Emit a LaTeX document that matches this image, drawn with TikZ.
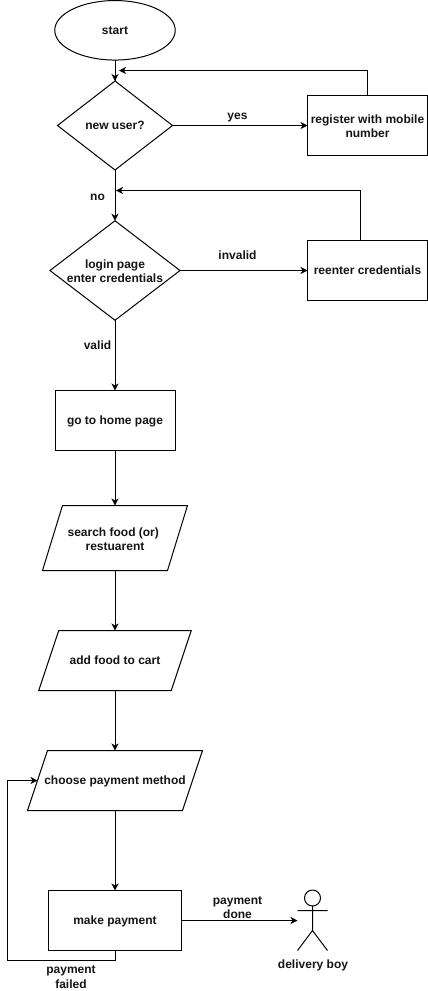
\documentclass[tikz,border=0pt]{standalone}
\usepackage{fontspec}
\setmainfont{Liberation Sans}
\usetikzlibrary{shapes.geometric,arrows.meta}
\newcommand{\topstrut}{\rule{0pt}{10.5pt}}
\newcommand{\botstrut}{\rule[-2.5pt]{0pt}{2.5pt}}
\newcommand{\lift}[1]{\rule{0pt}{#1}}
\tikzset{
  every node/.style={font=\fontsize{12}{14.5}\selectfont\bfseries,align=center,inner sep=0pt,outer sep=0pt,text=black!92,
    execute at begin node=\topstrut,execute at end node=\botstrut},
  box/.style={draw=black,line width=1pt,rectangle,minimum width=#1,minimum height=60pt},
  box/.default=120pt,
  decision/.style={draw=black,line width=1pt,diamond,shape aspect=1.2},
  iobody/.style={rectangle,minimum width=#1},
  wire/.style={line width=1pt,line join=miter},
  conn/.style={line width=1pt,-{Stealth[length=7pt,width=7pt,inset=2pt]}}
}
% outline of a parallelogram around a named text node: name, slant
\newcommand{\slanted}[2]{\draw[wire] ([xshift=#2pt]#1.north west) -- (#1.north east) -- ([xshift=-#2pt]#1.south east) -- (#1.south west) -- cycle;}
\begin{document}
\begin{tikzpicture}[x=1pt,y=-1pt]
\useasboundingbox (0,0) rectangle (428,991);
\node[draw=black,line width=1pt,ellipse,minimum width=120.5pt,minimum height=59.5pt] (start) at (115,30.3) {start};
\node[decision,minimum width=115pt,minimum height=89pt,label={[inner sep=0pt]center:new user?}] (newuser) at (115,125.5) {};
\node[box] (register) at (367.5,125.5) {\lift{12.5pt}register with mobile\\number};
\node[decision,minimum width=130pt,minimum height=99.5pt,label={[inner sep=0pt,align=center]center:\lift{12.5pt}login page\\enter credentials}] (login) at (115,270.5) {};
\node[box] (reenter) at (367.5,270.5) {reenter credentials};
\node[box] (home) at (115,420.5) {go to home page};
\node[iobody=145pt,minimum height=65pt] (search) at (115,538) {\lift{13.5pt}search food (or)\rule{3.5pt}{0pt}\\restuarent};
\slanted{search}{20}
\node[iobody=152.5pt,minimum height=60pt] (add) at (115,660.5) {add food to cart};
\slanted{add}{20}
\node[iobody=175pt,minimum height=60pt] (choose) at (115,780.5) {choose payment method};
\slanted{choose}{20}
\node[box=133pt] (make) at (115,920.5) {make payment};

\node[draw=black,line width=1pt,circle,minimum size=16pt] (head) at (312.5,898) {};
\coordinate (hip) at (312.5,930.5);
\coordinate (armL) at (297.5,910.5);
\coordinate (armR) at (327.5,910.5);
\coordinate (footL) at (297.5,950.5);
\coordinate (footR) at (327.5,950.5);
\coordinate (actorIn) at (297.5,920.5);
\draw[wire] (head.south) -- (hip) (armL) -- (armR) (footL) -- (hip) -- (footR);
\node (boy) at (313,964.5) {delivery boy};

\node (yes) at (237.5,115.5) {yes};
\node (no) at (97.5,196) {no};
\node (invalid) at (237.5,255.5) {invalid};
\node (valid) at (97.5,345) {valid};
\node (done) at (237.5,906.5) {\lift{12.5pt}payment\\done};
\node (failed) at (71,976) {\lift{12.5pt}payment\\failed};

\coordinate (regJoin) at (119,70.5);
\coordinate (reJoin) at (116,190.5);
\coordinate (reUp) at (360,240.5);
\coordinate (failCorner) at (7.5,960.5);

\draw[conn,preaction={draw,-}] (start.south) -- (newuser.north);
\draw[conn] (newuser.east) -- (register.west);
\draw[conn] (register.north) |- (regJoin);
\draw[conn] (newuser.south) -- (login.north);
\draw[conn] (login.east) -- (reenter.west);
\draw[conn] (reUp) |- (reJoin);
\draw[conn] (login.south) -- (home.north);
\draw[conn] (home.south) -- (search.north);
\draw[conn] (search.south) -- (add.north);
\draw[conn] (add.south) -- (choose.north);
\draw[conn] (choose.south) -- (make.north);
\draw[conn] (make.east) -- (actorIn);
\draw[conn] (make.south) |- (failCorner) |- ([xshift=10pt]choose.west);
\end{tikzpicture}
\end{document}
